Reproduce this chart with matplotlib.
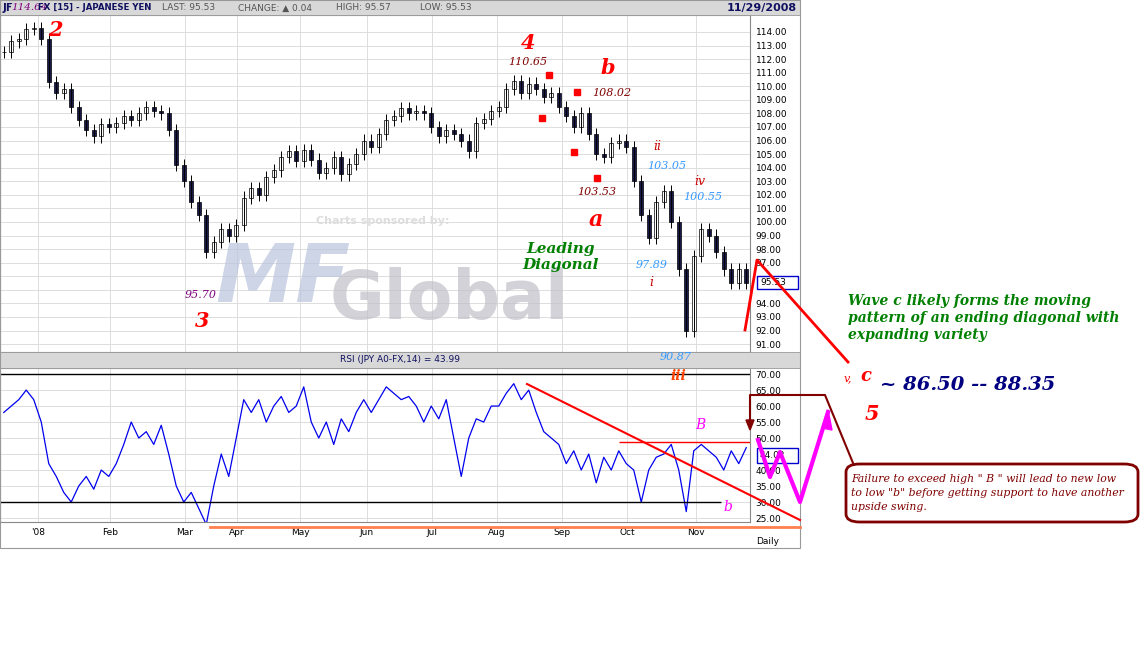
import matplotlib.pyplot as plt
from matplotlib.lines import Line2D
from matplotlib.patches import Rectangle, FancyBboxPatch

W, H = 1147, 666

# daily-ish closes (one bar every ~7.5 px)
closes = [112.5, 113.3, 113.5, 114.2, 114.3, 113.5, 110.3, 109.5, 109.8, 108.5,
          107.5, 106.8, 106.3, 107.2, 107.0, 107.3, 107.8, 107.5, 108.0, 108.5,
          108.2, 108.0, 106.8, 104.2, 103.0, 101.5, 100.5, 97.8, 98.5, 99.5,
          99.0, 99.8, 101.8, 102.5, 102.0, 103.3, 103.8, 104.8, 105.2, 104.5,
          105.3, 104.6, 103.6, 104.0, 104.8, 103.5, 104.3, 105.0, 106.0, 105.5,
          106.5, 107.5, 107.8, 108.4, 108.0, 108.2, 108.0, 107.0, 106.3, 106.8,
          106.5, 106.0, 105.2, 107.3, 107.6, 108.2, 108.5, 109.8, 110.4, 109.5,
          110.2, 109.8, 109.2, 109.5, 108.5, 107.8, 107.0, 108.0, 106.5, 105.0,
          104.8, 105.8, 106.0, 105.5, 103.0, 100.5, 98.8, 101.5, 102.3, 100.0,
          96.5, 92.0, 97.5, 99.5, 99.0, 97.8, 96.5, 95.5, 96.5, 95.5]
rsi = [58, 60, 62, 65, 62, 55, 42, 38, 33, 30, 35, 38, 34, 40, 38, 42, 48, 55, 50, 52,
       48, 54, 45, 35, 30, 33, 28, 23, 35, 45, 38, 50, 62, 58, 62, 55, 60, 63, 58, 60,
       66, 55, 50, 55, 48, 56, 52, 58, 62, 58, 62, 66, 64, 62, 63, 60, 55, 60, 56, 62,
       50, 38, 50, 56, 55, 60, 60, 64, 67, 62, 65, 58, 52, 50, 48, 42, 46, 40, 45, 36,
       44, 40, 46, 42, 40, 30, 40, 44, 45, 48, 40, 27, 46, 48, 46, 44, 40, 46, 42, 47]
month_px = [38, 110, 185, 237, 300, 367, 432, 497, 562, 627, 696]
month_labels = ["'08", "Feb", "Mar", "Apr", "May", "Jun", "Jul", "Aug", "Sep", "Oct", "Nov"]
price_ticks = list(range(91, 115))
rsi_ticks = [25, 30, 35, 40, 45, 50, 55, 60, 65, 70]


def fx(x):
    return x / W


def fy(y):
    return 1 - y / H


def box(x0, y0, x1, y1):
    return [fx(x0), fy(y1), (x1 - x0) / W, (y1 - y0) / H]


fig = plt.figure(figsize=(W / 100, H / 100), dpi=100)
fig.patch.set_facecolor("white")

month_x = [p / 7.5 - 0.5 for p in month_px]

# --- price panel ---
ax = fig.add_axes(box(0, 15, 750, 352))
ax.set_xlim(-0.5, 99.5)
ax.set_ylim(90.42, 115.25)
opens = [closes[0]] + closes[:-1]
for i, (o, c) in enumerate(zip(opens, closes)):
    hi, lo = max(o, c) + 0.45, min(o, c) - 0.45
    ax.vlines(i, lo, hi, color="black", lw=0.7)
    col = "white" if c >= o else "#1a1a4a"
    ax.add_patch(Rectangle((i - 0.25, min(o, c)), 0.5, max(abs(c - o), 0.05),
                           facecolor=col, edgecolor="black", lw=0.5))
ax.set_yticks(price_ticks)
ax.set_yticklabels(["" if v in (95, 96) else f"{v:.2f}" for v in price_ticks], fontsize=6.5)
ax.yaxis.tick_right()
ax.set_xticks(month_x)
ax.set_xticklabels([])
ax.grid(True, color="#dddddd", lw=0.7)
ax.set_axisbelow(True)
ax.tick_params(length=0, pad=4)
for s in ax.spines.values():
    s.set_color("#888888")

# --- RSI panel ---
ax2 = fig.add_axes(box(0, 368, 750, 522))
ax2.set_xlim(-0.5, 99.5)
ax2.set_ylim(23.75, 71.9)
ax2.plot(range(len(rsi)), rsi, color="#0000ee", lw=0.9)
ax2.axhline(70, color="black", lw=1)
ax2.hlines(30, -0.5, 717 / 7.5, color="black", lw=1)
ax2.hlines(48.9, 615 / 7.5, 99.5, color="red", lw=1)
ax2.set_yticks(rsi_ticks)
ax2.set_yticklabels(["" if v == 45 else f"{v:.2f}" for v in rsi_ticks], fontsize=6.5)
ax2.yaxis.tick_right()
ax2.set_xticks(month_x)
ax2.set_xticklabels(month_labels, fontsize=6.5)
ax2.grid(True, color="#dddddd", lw=0.7)
ax2.set_axisbelow(True)
ax2.tick_params(length=0, pad=4)
for s in ax2.spines.values():
    s.set_color("#888888")
fig.text(fx(768), fy(541), "Daily", fontsize=6.5, ha="center", va="center")

# header bars
for y0, y1 in [(0, 15), (352, 368)]:
    fig.patches.append(Rectangle((0, fy(y1)), fx(800), (y1 - y0) / H,
                                 transform=fig.transFigure, facecolor="#d8d8d8",
                                 edgecolor="#999999", lw=0.6))
fig.patches.append(Rectangle((0, fy(548)), fx(800), 548 / H, transform=fig.transFigure,
                             fill=False, edgecolor="#999999", lw=0.8))
fig.text(fx(3), fy(8), "JF", color="#101060", fontsize=7.5, weight="bold", va="center")
fig.text(fx(11), fy(8), "114.64", color="#800080", fontsize=7.5, style="italic",
         family="serif", va="center",
         bbox=dict(facecolor="#d8d8d8", edgecolor="none", pad=0))
fig.text(fx(38), fy(8), "FX [15] - JAPANESE YEN", color="#101060", fontsize=6.2,
         weight="bold", va="center")
for x, t in [(162, "LAST: 95.53"), (238, "CHANGE: \u25b2 0.04"), (336, "HIGH: 95.57"),
             (420, "LOW: 95.53")]:
    fig.text(fx(x), fy(8), t, color="#555555", fontsize=6.5, va="center")
fig.text(fx(797), fy(8), "11/29/2008", color="#101060", fontsize=8, weight="bold",
         va="center", ha="right")
fig.text(fx(400), fy(360), "RSI (JPY A0-FX,14) = 43.99", fontsize=6.5, color="#101060",
         ha="center", va="center")

# value boxes at right axis
for x0, y0, x1, y1, t in [(757, 276, 798, 289, "95.53"), (757, 448, 798, 463, "44.02")]:
    fig.patches.append(Rectangle((fx(x0), fy(y1)), (x1 - x0) / W, (y1 - y0) / H,
                                 transform=fig.transFigure, facecolor="white",
                                 edgecolor="#0000cc", lw=1, zorder=5))
    fig.text(fx(760), fy((y0 + y1) / 2), t, fontsize=6.5, va="center", zorder=6)

# watermark
fig.text(fx(316), fy(221), "Charts sponsored by:", color="#dddddd", fontsize=8,
         weight="bold", va="center")
fig.text(fx(215), fy(280), "MF", color="#b8c4dc", fontsize=58, weight="bold",
         style="italic", va="center", alpha=0.7)
fig.text(fx(330), fy(300), "Global", color="#c0c0c8", fontsize=48, weight="bold",
         va="center", alpha=0.7)


# wave labels
def lab(x, y, t, c, s=8, **kw):
    fig.text(fx(x), fy(y), t, color=c, fontsize=s, style="italic", family="serif",
             ha="center", va="center", zorder=7, **kw)


for x, y, t, s in [(55, 30, "2", 15), (528, 43, "4", 15), (608, 68, "b", 15),
                   (596, 220, "a", 16), (202, 321, "3", 15), (872, 414, "5", 15)]:
    lab(x, y, t, "red", s, weight="bold")
for x, y, t in [(528, 62, "110.65"), (612, 93, "108.02"), (597, 192, "103.53")]:
    lab(x, y, t, "#800000")
for x, y, t in [(667, 166, "103.05"), (703, 197, "100.55"), (652, 265, "97.89"),
                (676, 357, "90.87")]:
    lab(x, y, t, "#3399ff")
lab(201, 295, "95.70", "#800080")
for x, y, t in [(657, 147, "ii"), (700, 182, "iv"), (651, 282, "i")]:
    lab(x, y, t, "#cc0000", 9)
lab(678, 376, "iii", "#ff4400", 10, weight="bold")
lab(561, 257, "Leading\nDiagonal", "#008000", 11, weight="bold")
lab(700, 425, "B", "magenta", 10)
lab(728, 507, "b", "magenta", 10)
lab(848, 378, "v,", "red", 8)
lab(866, 376, "c", "red", 13, weight="bold")
fig.text(fx(848), fy(318), "Wave c likely forms the moving\npattern of an ending diagonal with\n"
         "expanding variety", color="#008000", fontsize=10, style="italic", family="serif",
         weight="bold", va="center", linespacing=1.3)
fig.text(fx(880), fy(385), "~ 86.50 -- 88.35", color="#000080", fontsize=14,
         style="italic", family="serif", weight="bold", va="center")

# red squares
for x, y in [(549, 75), (542, 118), (577, 92), (574, 152), (597, 178)]:
    fig.lines.append(Line2D([fx(x)], [fy(y)], marker="s", ms=4, color="red",
                            transform=fig.transFigure))


def fline(pts, **kw):
    fig.lines.append(Line2D([fx(p[0]) for p in pts], [fy(p[1]) for p in pts],
                            transform=fig.transFigure, zorder=8, **kw))


fline([(745, 330), (757, 260), (848, 362)], color="red", lw=2)
fline([(527, 384), (800, 520)], color="red", lw=1.5)
fline([(210, 527), (800, 527)], color="#ff7f50", lw=2)
fline([(758, 440), (770, 477), (780, 452), (800, 502), (828, 412)], color="magenta", lw=3)
fig.patches.append(plt.Polygon([(fx(822), fy(428)), (fx(828), fy(410)), (fx(832), fy(430))],
                               closed=True, color="magenta", transform=fig.transFigure))
fline([(750, 428), (750, 395), (825, 395), (853, 463)], color="#800000", lw=1.5)
fig.patches.append(plt.Polygon([(fx(746), fy(420)), (fx(750), fy(430)), (fx(754), fy(420))],
                               closed=True, color="#800000", transform=fig.transFigure))
fig.patches.append(FancyBboxPatch((fx(846), fy(522)), (1138 - 846) / W, 58 / H,
                                  boxstyle="round,pad=0,rounding_size=0.012",
                                  transform=fig.transFigure, facecolor="white",
                                  edgecolor="#800000", lw=2))
fig.text(fx(851), fy(493), 'Failure to exceed high " B " will lead to new low\n'
         'to low "b" before getting support to have another\nupside swing.',
         color="#800000", fontsize=7.8, style="italic", family="serif", va="center",
         linespacing=1.45)

fig.savefig("out.png", dpi=100)
